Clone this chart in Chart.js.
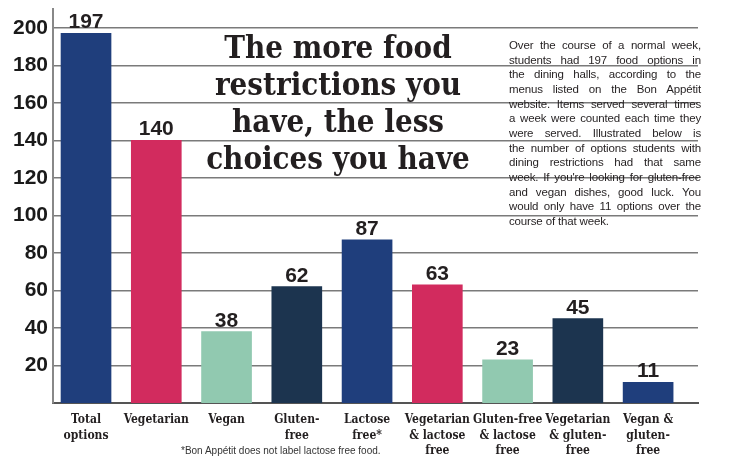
<!DOCTYPE html>
<html><head><meta charset="utf-8">
<script src="https://cdn.jsdelivr.net/npm/chart.js@4"></script>
<style>
html,body{margin:0;padding:0;background:#fff;}
#wrap{position:relative;width:741px;height:464px;overflow:hidden;}
canvas{position:absolute;left:0;top:0;}
.title{position:absolute;left:188px;width:300px;top:29px;text-align:center;font-family:'DejaVu Serif Condensed','DejaVu Serif';font-weight:bold;font-size:31px;color:#231f20;line-height:37px;}
.para{position:absolute;left:509px;top:38px;width:192px;font-family:'Liberation Sans',Arial,sans-serif;font-size:11.5px;letter-spacing:-0.15px;line-height:14.65px;color:#231f20;white-space:nowrap;}
.para div{text-align:justify;text-align-last:justify;white-space:normal;}
.para div.last{text-align-last:left;}
.foot{position:absolute;left:181px;top:445px;font-family:'Liberation Sans',Arial,sans-serif;font-size:10px;color:#333;}
</style></head>
<body>
<div id="wrap">
<canvas id="c" width="741" height="464"></canvas>
<div class="title">The more food<br>restrictions you<br>have, the less<br>choices you have</div>
<div class="para">
<div>Over the course of a normal week,</div>
<div>students had 197 food options in</div>
<div>the dining halls, according to the</div>
<div>menus listed on the Bon Appétit</div>
<div>website. Items served several times</div>
<div>a week were counted each time they</div>
<div>were served. Illustrated below is</div>
<div>the number of options students with</div>
<div>dining restrictions had that same</div>
<div>week. If you're looking for gluten-free</div>
<div>and vegan dishes, good luck. You</div>
<div>would only have 11 options over the</div>
<div class="last">course of that week.</div>
</div>
<div class="foot">*Bon Appétit does not label lactose free food.</div>
</div>
<script>
const categories = [
  ["Total","options"],
  ["Vegetarian"],
  ["Vegan"],
  ["Gluten-","free"],
  ["Lactose","free*"],
  ["Vegetarian","& lactose","free"],
  ["Gluten-free","& lactose","free"],
  ["Vegetarian","& gluten-","free"],
  ["Vegan &","gluten-","free"]
];
const optionCounts = [197, 140, 38, 62, 87, 63, 23, 45, 11];
const yTickValues = [20, 40, 60, 80, 100, 120, 140, 160, 180, 200];
const barColors = ["#1f3e7c","#d22b5e","#91c9b0","#1c344f","#1f3e7c","#d22b5e","#91c9b0","#1c344f","#1f3e7c"];

const valueLabels = {
  id: 'valueLabels',
  afterDatasetsDraw(chart) {
    const ctx = chart.ctx;
    const meta = chart.getDatasetMeta(0);
    ctx.save();
    ctx.font = "bold 21px 'Liberation Sans', Arial, sans-serif";
    ctx.fillStyle = '#231f20';
    ctx.textAlign = 'center';
    ctx.textBaseline = 'alphabetic';
    meta.data.forEach((bar, i) => {
      ctx.fillText(String(optionCounts[i]), bar.x, bar.y - 5);
    });
    ctx.restore();
  }
};

new Chart(document.getElementById('c'), {
  type: 'bar',
  data: {
    datasets: [{
      data: optionCounts.map((v, i) => ({x: i, y: v})),
      backgroundColor: barColors,
      borderWidth: 0,
      barThickness: 50
    }]
  },
  options: {
    responsive: false,
    animation: false,
    events: [],
    layout: {padding: {top: 9, right: 43, left: 0, bottom: 0}},
    plugins: {legend: {display: false}, tooltip: {enabled: false}, title: {display: false}},
    scales: {
      x: {
        type: 'linear',
        offset: false,
        min: -0.47,
        max: 8.71,
        afterBuildTicks(scale) { scale.ticks = categories.map((_, i) => ({value: i})); },
        afterFit(scale) { scale.height = 61; scale.paddingLeft = 0; scale.paddingRight = 0; },
        grid: {display: false, drawTicks: false, offset: false},
        border: {display: true, color: '#555', width: 2},
        ticks: {
          autoSkip: false,
          maxRotation: 0,
          padding: 9,
          color: '#231f20',
          font: {family: "'DejaVu Serif Condensed', 'DejaVu Serif', serif", weight: 'bold', size: 12, lineHeight: 1.3},
          callback: (v, idx) => categories[idx]
        }
      },
      y: {
        min: 0,
        max: 210,
        afterBuildTicks(scale) { scale.ticks = yTickValues.map(v => ({value: v})); },
        afterFit(scale) { scale.width = 53; scale.paddingTop = 0; scale.paddingBottom = 0; },
        grid: {color: '#7a7a7a', lineWidth: 1.5, drawTicks: false},
        border: {display: true, color: '#888', width: 2},
        ticks: {
          padding: 5,
          color: '#1a1a1a',
          font: {family: "'Liberation Sans', Arial, sans-serif", weight: 'bold', size: 21},
          callback: v => String(v)
        }
      }
    }
  },
  plugins: [valueLabels]
});
</script>
</body></html>
